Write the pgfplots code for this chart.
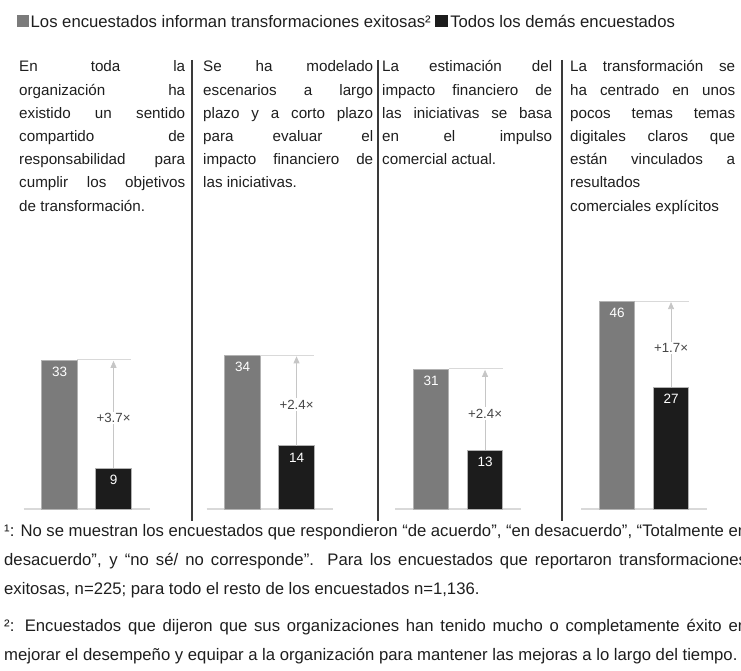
\documentclass[border=0pt]{standalone}
\usepackage{pgfplots}
\pgfplotsset{compat=1.18}
\usepackage{fontspec}
\setmainfont{Liberation Sans}
\usetikzlibrary{arrows.meta}
\definecolor{gbar}{HTML}{7B7B7B}
\definecolor{kbar}{HTML}{1C1C1C}
\definecolor{txt}{HTML}{1E1E1E}
\definecolor{divc}{HTML}{3A3A3A}
\definecolor{multc}{HTML}{454545}
\newcommand{\ptext}{\fontsize{15.2bp}{18bp}\selectfont}
\newcommand{\ftext}{\fontsize{16.7bp}{20bp}\selectfont}
\newcommand{\J}[4]{\node[anchor=base west,inner sep=0pt,text=txt] at (#1,#2) {\ptext\makebox[#3bp][s]{#4}};}
\newcommand{\Lf}[3]{\node[anchor=base west,inner sep=0pt,text=txt] at (#1,#2) {\ptext #3};}
\newcommand{\FJ}[2]{\node[anchor=base west,inner sep=0pt,text=txt] at (4,#1) {\ftext\makebox[743bp][s]{#2}};}
\newcommand{\FL}[2]{\node[anchor=base west,inner sep=0pt,text=txt] at (4,#1) {\ftext #2};}
\pgfplotsset{panel/.style={anchor=south west, x=54bp, y=4.52bp,
  xmin=-0.667, xmax=1.667, ymin=0, ymax=50,
  axis x line=bottom, axis y line=none,
  axis line style={-, draw=gray!30, line width=1.6bp},
  xtick=\empty, ytick=\empty, clip=false,
  ybar, bar width=35.5bp, bar shift=0pt}}
\tikzset{
  vlab/.style={anchor=north, yshift=-7bp, inner sep=0pt, text=white, font=\fontsize{13.5bp}{14bp}\selectfont},
  mlab/.style={fill=white, inner sep=1.5bp, text=multc, yshift=-4bp, font=\fontsize{13.3bp}{14bp}\selectfont},
  refl/.style={gray!30, line width=0.8bp},
  arr/.style={gray!45, line width=0.8bp, shorten >=1bp, -{Triangle[width=6bp,length=7bp]}},
  gb/.style={fill=gbar, draw=gray!60, line width=0.6bp},
  kb/.style={fill=kbar, draw=gray!60, line width=0.6bp}}
\begin{document}
\begin{tikzpicture}[x=1bp,y=1bp]
\path[use as bounding box] (0,0) rectangle (741,671);
\clip (0,0) rectangle (741,671);
% legend
\node[anchor=base west,inner sep=0pt,text=txt] at (17,643.5) {\ftext\textcolor{gbar}{\rule{12bp}{12bp}}\hspace{1.5bp}Los encuestados informan transformaciones exitosas²\hspace{4bp}\textcolor{kbar}{\rule{13bp}{12bp}}\hspace{2.5bp}Todos los demás encuestados};
% dividers
\draw[divc, line width=1.4bp] (192,611) -- (192,150);
\draw[divc, line width=1.4bp] (378,611) -- (378,150);
\draw[divc, line width=1.4bp] (562,611) -- (562,150);
% panel 1 text
\J{19}{599}{166}{En toda la}
\J{19}{575.8}{166}{organización ha}
\J{19}{552.6}{166}{existido un sentido}
\J{19}{529.4}{166}{compartido de}
\J{19}{506.2}{166}{responsabilidad para}
\J{19}{483}{166}{cumplir los objetivos}
\Lf{19}{459.8}{de transformación.}
% panel 2 text
\J{203}{599}{170}{Se ha modelado}
\J{203}{575.8}{170}{escenarios a largo}
\J{203}{552.6}{170}{plazo y a corto plazo}
\J{203}{529.4}{170}{para evaluar el}
\J{203}{506.2}{170}{impacto financiero de}
\Lf{203}{483}{las iniciativas.}
% panel 3 text
\J{382}{599}{170}{La estimación del}
\J{382}{575.8}{170}{impacto financiero de}
\J{382}{552.6}{170}{las iniciativas se basa}
\J{382}{529.4}{170}{en el impulso}
\Lf{382}{506.2}{comercial actual.}
% panel 4 text
\J{570}{599}{165}{La transformación se}
\J{570}{575.8}{165}{ha centrado en unos}
\J{570}{552.6}{165}{pocos temas temas}
\J{570}{529.4}{165}{digitales claros que}
\J{570}{506.2}{165}{están vinculados a}
\Lf{570}{483}{resultados}
\Lf{570}{459.8}{comerciales explícitos}
% panel 1 bars
\begin{axis}[panel, at={(23.5bp,162bp)}]
\addplot[gb] coordinates {(0,33)};
\addplot[kb] coordinates {(1,9)};
\draw[refl] (axis cs:0.329,33) -- (axis cs:1.329,33);
\draw[arr] (axis cs:1,9) -- (axis cs:1,33);
\node[mlab] at (axis cs:1,21) {+3.7×};
\node[vlab] at (axis cs:0,33) {33};
\node[vlab] at (axis cs:1,9) {9};
\end{axis}
% panel 2 bars
\begin{axis}[panel, at={(206.5bp,162bp)}]
\addplot[gb] coordinates {(0,34)};
\addplot[kb] coordinates {(1,14)};
\draw[refl] (axis cs:0.329,34) -- (axis cs:1.329,34);
\draw[arr] (axis cs:1,14) -- (axis cs:1,34);
\node[mlab] at (axis cs:1,24) {+2.4×};
\node[vlab] at (axis cs:0,34) {34};
\node[vlab] at (axis cs:1,14) {14};
\end{axis}
% panel 3 bars
\begin{axis}[panel, at={(395bp,162bp)}]
\addplot[gb] coordinates {(0,31)};
\addplot[kb] coordinates {(1,13)};
\draw[refl] (axis cs:0.329,31) -- (axis cs:1.329,31);
\draw[arr] (axis cs:1,13) -- (axis cs:1,31);
\node[mlab] at (axis cs:1,22) {+2.4×};
\node[vlab] at (axis cs:0,31) {31};
\node[vlab] at (axis cs:1,13) {13};
\end{axis}
% panel 4 bars
\begin{axis}[panel, at={(581bp,162bp)}]
\addplot[gb] coordinates {(0,46)};
\addplot[kb] coordinates {(1,27)};
\draw[refl] (axis cs:0.329,46) -- (axis cs:1.329,46);
\draw[arr] (axis cs:1,27) -- (axis cs:1,46);
\node[mlab] at (axis cs:1,36.5) {+1.7×};
\node[vlab] at (axis cs:0,46) {46};
\node[vlab] at (axis cs:1,27) {27};
\end{axis}
% footnotes
\FJ{134}{¹: No se muestran los encuestados que respondieron “de acuerdo”, “en desacuerdo”, “Totalmente en}
\FJ{105.3}{desacuerdo”, y “no sé/ no corresponde”. Para los encuestados que reportaron transformaciones}
\FL{76.6}{exitosas, n=225; para todo el resto de los encuestados n=1,136.}
\FJ{39.5}{²: Encuestados que dijeron que sus organizaciones han tenido mucho o completamente éxito en}
\FL{10.8}{mejorar el desempeño y equipar a la organización para mantener las mejoras a lo largo del tiempo.}
\end{tikzpicture}
\end{document}
